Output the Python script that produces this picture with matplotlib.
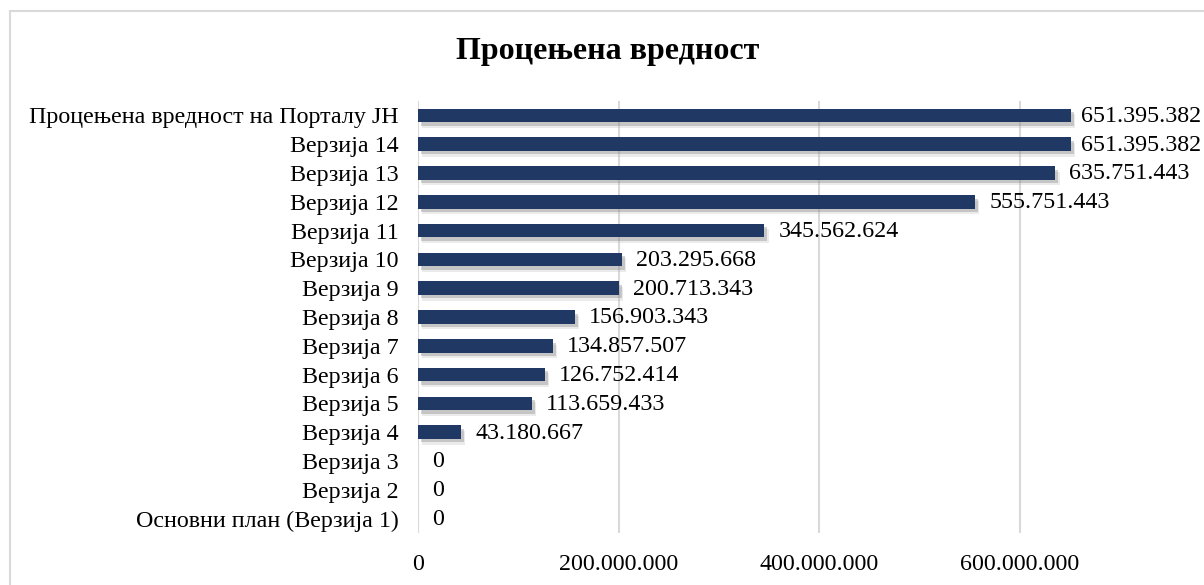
import matplotlib
matplotlib.use("Agg")
import matplotlib.pyplot as plt
import matplotlib.patheffects as pe
from matplotlib.patches import Rectangle

categories = [
    "Процењена вредност на Порталу ЈН",
    "Верзија 14",
    "Верзија 13",
    "Верзија 12",
    "Верзија 11",
    "Верзија 10",
    "Верзија 9",
    "Верзија 8",
    "Верзија 7",
    "Верзија 6",
    "Верзија 5",
    "Верзија 4",
    "Верзија 3",
    "Верзија 2",
    "Основни план (Верзија 1)",
]
values = [
    651395382, 651395382, 635751443, 555751443, 345562624, 203295668,
    200713343, 156903343, 134857507, 126752414, 113659433, 43180667, 0, 0, 0,
]
xticks = [0, 200000000, 400000000, 600000000]
xtick_labels = ["0", "200.000.000", "400.000.000", "600.000.000"]
title = "Процењена вредност"

W, H = 1204, 585
plt.rcParams['font.family'] = ['Liberation Serif', 'DejaVu Serif']
fig = plt.figure(figsize=(W / 100, H / 100), dpi=100)

# chart border (right and bottom edges lie outside the image)
fig.patches.append(Rectangle((10 / W, -0.2), 1.2, 1.2 - 11 / H, transform=fig.transFigure,
                             fill=False, edgecolor='#d9d9d9', linewidth=1.5))

ax_left, ax_right, ax_top, ax_bot = 418, 1220, 101, 533
ax = fig.add_axes([ax_left / W, 1 - ax_bot / H, (ax_right - ax_left) / W, (ax_bot - ax_top) / H])

ypos = list(range(len(categories)))
bars = ax.barh(ypos, values, height=0.47, color='#1f3864', zorder=3)
for b in bars:
    b.set_path_effects([
        pe.SimplePatchShadow(offset=(3, -4), shadow_rgbFace='#b0b0b0', alpha=0.25),
        pe.SimplePatchShadow(offset=(2, -2.5), shadow_rgbFace='#808080', alpha=0.35),
        pe.Normal()])

ax.set_xlim(0, 800000000)
ax.set_ylim(len(categories) - 0.5, -0.5)
ax.set_xticks(xticks)
ax.set_xticklabels(xtick_labels, fontsize=17.3)
ax.set_yticks(ypos)
ax.set_yticklabels(categories, fontsize=17.3)
ax.tick_params(axis='both', length=0)
ax.tick_params(axis='y', pad=14)
ax.tick_params(axis='x', pad=15)
for s in ax.spines.values():
    s.set_visible(False)
ax.grid(axis='x', color='#d9d9d9', linewidth=1.5, zorder=0)
ax.set_axisbelow(True)

texts = []
for y, v in zip(ypos, values):
    t = ax.annotate(f"{v:,}".replace(",", "."), xy=(v, y), xytext=(14, -1),
                    textcoords='offset pixels', ha='left', va='center',
                    fontsize=17.3, color='#000000', annotation_clip=False)
    texts.append(t)

fig.text(608 / W, 1 - 52 / H, title, ha='center', va='center', fontsize=23,
         fontweight='bold')

fig.canvas.draw()
r = fig.canvas.get_renderer()
for t in texts:
    bb = t.get_window_extent(r)
    if bb.x1 > W - 3:
        x, y = t.xyann
        t.xyann = (x - (bb.x1 - (W - 3)), y)

fig.savefig("out.png", dpi=100)
